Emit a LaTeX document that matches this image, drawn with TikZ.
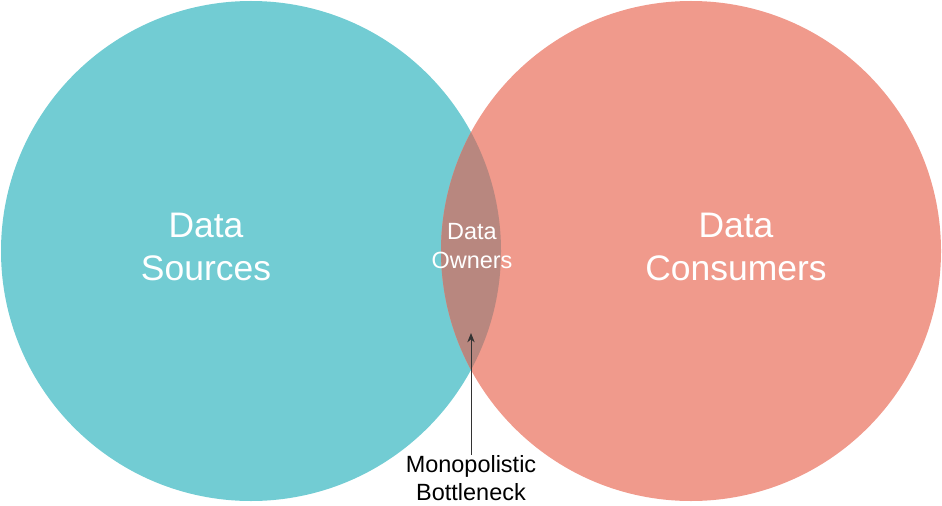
\documentclass[tikz,border=0pt]{standalone}
\usepackage{fontspec}
\setmainfont{Liberation Sans}
\usepackage{tikz}
\usetikzlibrary{arrows.meta}

\definecolor{sourcecol}{HTML}{72CCD3}
\definecolor{consumercol}{HTML}{F09A8C}
\definecolor{ownercol}{HTML}{B8877F}

\tikzset{
  bigtext/.style={text=white, align=center, inner sep=0pt, font=\fontsize{26.6}{32.25}\selectfont},
  smalltext/.style={align=center, inner sep=0pt, font=\fontsize{17.6}{21.5}\selectfont},
  pointer/.style={draw=black!80, line width=0.75pt, -{Stealth[length=7pt,width=5.5pt]}}
}

\begin{document}
\begin{tikzpicture}[x=0.75pt,y=-0.75pt]
        \useasboundingbox (0,0) rectangle (942,506);
        % the two sets
        \fill[sourcecol] (251,251) circle[radius=187.5pt];
        \fill[consumercol] (691,251) circle[radius=187.5pt];
        % overlap
        \begin{scope}
            \clip (251,251) circle[radius=187.5pt];
            \fill[ownercol] (691,251) circle[radius=187.5pt];
        \end{scope}
        \node[bigtext] (sources) at (206,247) {Data\\Sources};
        \node[bigtext] (consumers) at (736,247) {Data\\Consumers};
        \node[smalltext, text=white] (owners) at (472,246) {Data\\Owners};
        \node[smalltext, text=black, anchor=north] (bottleneck) at (471,455) {Monopolistic\\Bottleneck};
        \coordinate (tip) at (471,333);
        \draw[pointer] (bottleneck.north) -- (tip);
    \end{tikzpicture}
\end{document}
